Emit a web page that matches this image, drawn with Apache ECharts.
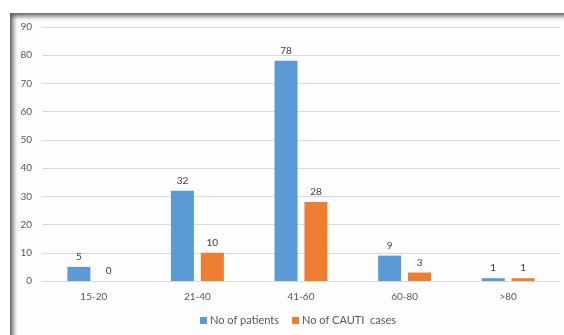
<!DOCTYPE html>
<html>
<head>
<meta charset="utf-8">
<script src="https://cdn.jsdelivr.net/npm/echarts@6/dist/echarts.min.js"></script>
<style>
  html, body { margin: 0; padding: 0; background: #ffffff; }
  #frame {
    position: absolute; left: 10px; top: 13px; width: 560px; height: 330px;
    background: #fdfdfd;
    box-shadow: inset 4px 4px 5px -1px rgba(0,0,0,0.65);
  }
  #chart { position: absolute; left: 0; top: 0; width: 564px; height: 335px; }
</style>
</head>
<body>
<div id="frame"></div>
<div id="chart"></div>
<script>
// Age groups and counts per group
const ageGroups = ['15-20', '21-40', '41-60', '60-80', '>80'];
const patients = [5, 32, 78, 9, 1];
const cautiCases = [0, 10, 28, 3, 1];
const yTicks = { min: 0, max: 90, interval: 10 };

const font = 'Lato, "Open Sans", sans-serif';
const chart = echarts.init(document.getElementById('chart'), null, { renderer: 'canvas' });

const labelStyle = {
  show: true, position: 'top', distance: 5,
  color: '#404040', fontSize: 10, fontFamily: font
};

chart.setOption({
  animation: false,
  backgroundColor: 'transparent',
  grid: { left: 42, right: 4, top: 27, bottom: 54, containLabel: false },
  legend: {
    left: 195, bottom: 4,
    itemWidth: 7, itemHeight: 7, itemGap: 13,
    icon: 'rect',
    textStyle: { color: '#595959', fontSize: 11, fontFamily: font, padding: [0, 0, 0, -2] },
    data: ['No of patients', 'No of CAUTI  cases']
  },
  xAxis: {
    type: 'category',
    data: ageGroups,
    axisLine: { show: true, lineStyle: { color: '#d9d9d9' } },
    axisTick: { show: false },
    axisLabel: { color: '#595959', fontSize: 10, fontFamily: font, margin: 11 }
  },
  yAxis: {
    type: 'value',
    min: yTicks.min, max: yTicks.max, interval: yTicks.interval,
    axisLine: { show: false },
    axisTick: { show: false },
    splitLine: { lineStyle: { color: '#d9d9d9' } },
    axisLabel: { color: '#595959', fontSize: 10, fontFamily: font, margin: 10 }
  },
  series: [
    {
      name: 'No of patients', type: 'bar', data: patients,
      itemStyle: { color: '#5b9bd5' },
      barWidth: 23, barGap: '30%',
      label: labelStyle
    },
    {
      name: 'No of CAUTI  cases', type: 'bar', data: cautiCases,
      itemStyle: { color: '#ed7d31' },
      barWidth: 23,
      label: labelStyle
    }
  ]
});
</script>
</body>
</html>
